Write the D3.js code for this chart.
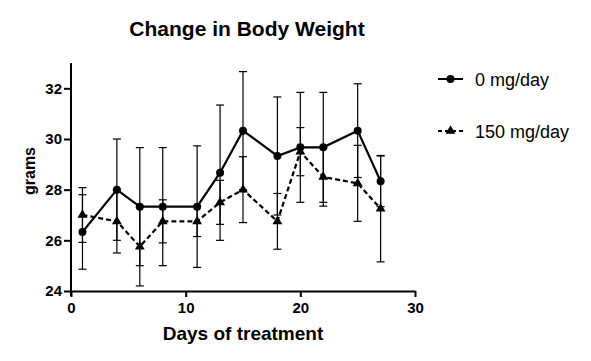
<!DOCTYPE html>
<html>
<head>
<meta charset="utf-8">
<script src="https://cdn.jsdelivr.net/npm/d3@7"></script>
<style>
  body { margin: 0; background: #fff; }
  svg { font-family: "Liberation Sans", Arial, sans-serif; }
</style>
</head>
<body>
<svg id="chart"></svg>
<script>
// data
const days = [1, 4, 6, 8, 11, 13, 15, 18, 20, 22, 25, 27];
const dose0Mean = [26.33, 28.0, 27.33, 27.33, 27.33, 28.67, 30.33, 29.33, 29.67, 29.67, 30.33, 28.33];
const dose0Err = [1.47, 2.0, 2.33, 2.33, 2.4, 2.67, 2.33, 2.33, 2.17, 2.17, 1.85, 1.0];
const dose150Mean = [27.0, 26.75, 25.75, 26.75, 26.75, 27.5, 28.0, 26.75, 29.5, 28.5, 28.25, 27.25];
const dose150Err = [1.08, 1.25, 1.55, 0.85, 0.6, 0.87, 1.3, 1.1, 0.95, 1.15, 1.5, 2.1];
const xTicks = [0, 10, 20, 30];
const yTicks = [24, 26, 28, 30, 32];
const seriesNames = ["0 mg/day", "150 mg/day"];

const width = 591, height = 361;
const margin = { top: 63, right: 176, bottom: 70, left: 71 };

const svg = d3.select("#chart")
    .attr("width", width)
    .attr("height", height);

const x = d3.scaleLinear().domain([0, 30]).range([margin.left, width - margin.right]);
const y = d3.scaleLinear().domain([24, 33]).range([height - margin.bottom, margin.top]);

const series = [
    { name: seriesNames[0], mean: dose0Mean, err: dose0Err, dash: null, marker: "circle" },
    { name: seriesNames[1], mean: dose150Mean, err: dose150Err, dash: "5,3", marker: "triangle" }
];

// title
svg.append("text")
    .attr("x", 247)
    .attr("y", 36)
    .attr("text-anchor", "middle")
    .style("font-size", "21px")
    .style("font-weight", "bold")
    .text("Change in Body Weight");

// axes
const xAxis = svg.append("g")
    .attr("transform", `translate(0,${y(24)})`)
    .call(d3.axisBottom(x).tickValues(xTicks).tickSize(6).tickPadding(5).tickSizeOuter(0));
const yAxis = svg.append("g")
    .attr("transform", `translate(${x(0)},0)`)
    .call(d3.axisLeft(y).tickValues(yTicks).tickSize(7).tickPadding(2).tickSizeOuter(0));

[xAxis, yAxis].forEach(ax => {
    ax.select(".domain").attr("stroke", "#000").attr("stroke-width", 2);
    ax.selectAll(".tick line").attr("stroke", "#000").attr("stroke-width", 2);
    ax.selectAll(".tick text")
        .attr("fill", "#000")
        .style("font-size", "15px")
        .style("font-weight", "bold")
        .style("font-family", "'Liberation Sans', Arial, sans-serif");
});
// y axis runs a bit below the x axis
yAxis.select(".domain").attr("d", `M0,${y(33)}V${y(24) + 5}`);

// axis labels
svg.append("text")
    .attr("x", (x(0) + x(30)) / 2)
    .attr("y", 340)
    .attr("text-anchor", "middle")
    .style("font-size", "19px")
    .style("font-weight", "bold")
    .text("Days of treatment");

svg.append("text")
    .attr("transform", `translate(35,171) rotate(-90)`)
    .attr("text-anchor", "middle")
    .style("font-size", "16px")
    .style("font-weight", "bold")
    .text("grams");

const triangle = d3.symbol().type(d3.symbolTriangle).size(42);

function drawMarker(g, kind, cx, cy) {
    if (kind === "circle") {
        g.append("circle").attr("cx", cx).attr("cy", cy).attr("r", 4).attr("fill", "#000");
    } else {
        g.append("path").attr("d", triangle).attr("transform", `translate(${cx},${cy})`).attr("fill", "#000");
    }
}

// error bars
series.forEach(s => {
    const g = svg.append("g");
    days.forEach((d, i) => {
        const cx = x(d);
        const top = y(s.mean[i] + s.err[i]);
        const bot = y(s.mean[i] - s.err[i]);
        g.append("line").attr("x1", cx).attr("x2", cx).attr("y1", top).attr("y2", bot)
            .attr("stroke", "#000").attr("stroke-width", 1.2);
        [top, bot].forEach(v => {
            g.append("line").attr("x1", cx - 4).attr("x2", cx + 4).attr("y1", v).attr("y2", v)
                .attr("stroke", "#000").attr("stroke-width", 1.2);
        });
    });
});

// lines and markers
const line = d3.line().x(d => x(d[0])).y(d => y(d[1]));
series.forEach(s => {
    svg.append("path")
        .datum(days.map((d, i) => [d, s.mean[i]]))
        .attr("d", line)
        .attr("fill", "none")
        .attr("stroke", "#000")
        .attr("stroke-width", 2.2)
        .attr("stroke-dasharray", s.dash);
    const g = svg.append("g");
    days.forEach((d, i) => drawMarker(g, s.marker, x(d), y(s.mean[i])));
});

// legend
const legend = svg.selectAll(".legend")
    .data(series)
    .enter().append("g")
    .attr("class", "legend")
    .attr("transform", (d, i) => `translate(438,${79 + i * 52})`);

legend.append("line")
    .attr("x1", 0).attr("x2", 25).attr("y1", 0).attr("y2", 0)
    .attr("stroke", "#000").attr("stroke-width", 2)
    .attr("stroke-dasharray", d => d.dash ? "4,3" : null);

legend.each(function (d) { drawMarker(d3.select(this), d.marker, 12.5, 0); });

legend.append("text")
    .attr("x", 37)
    .attr("y", 7)
    .style("font-size", "18px")
    .text(d => d.name);
</script>
</body>
</html>
